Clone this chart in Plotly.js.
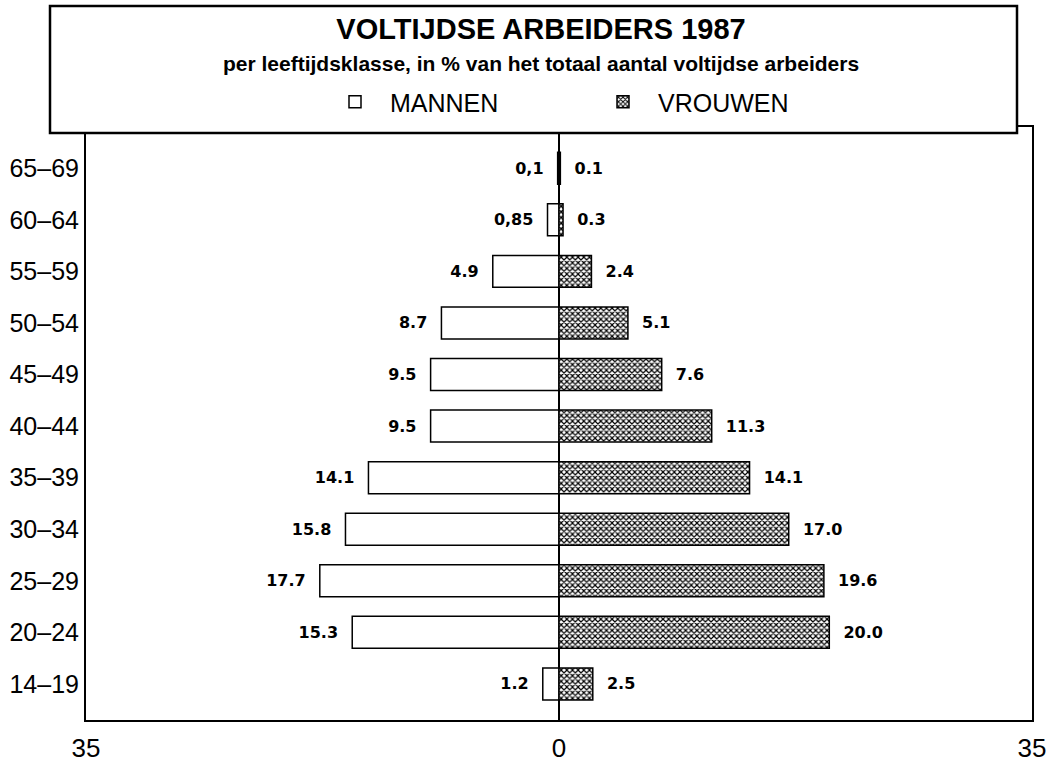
<!DOCTYPE html>
<html>
<head>
<meta charset="utf-8">
<script src="https://cdn.plot.ly/plotly-3.0.1.min.js"></script>
<style>html,body{margin:0;padding:0;background:#fff;}#chart{width:1057px;height:762px;}</style>
</head>
<body>
<div id="chart"></div>
<script>
// Data (bottom to top)
const ageGroups = ["14–19","20–24","25–29","30–34","35–39","40–44","45–49","50–54","55–59","60–64","65–69"];
const mannen = [1.2, 15.3, 17.7, 15.8, 14.1, 9.5, 9.5, 8.7, 4.9, 0.85, 0.1];
const vrouwen = [2.5, 20.0, 19.6, 17.0, 14.1, 11.3, 7.6, 5.1, 2.4, 0.3, 0.1];
const mannenLabels = ["1.2","15.3","17.7","15.8","14.1","9.5","9.5","8.7","4.9","0,85","0,1"];
const vrouwenLabels = ["2.5","20.0","19.6","17.0","14.1","11.3","7.6","5.1","2.4","0.3","0.1"];
const xTickVals = [-35, 0, 35];
const xTickText = ["35", "0", "35"];

const FONT = "Liberation Sans, Arial, sans-serif";
const LABELFONT = "DejaVu Sans, Liberation Sans, sans-serif";

const traces = [
  {
    type: "bar", orientation: "h", name: "MANNEN",
    y: ageGroups, x: mannen.map(v => -v),
    text: mannenLabels, texttemplate: "%{text}\u00a0\u00a0", textposition: "outside",
    cliponaxis: false,
    textfont: {family: LABELFONT, size: 16, color: "#000", weight: "bold"},
    marker: {color: "#ffffff", line: {color: "#000", width: 1.5}},
    hoverinfo: "skip"
  },
  {
    type: "bar", orientation: "h", name: "VROUWEN",
    y: ageGroups, x: vrouwen,
    text: vrouwenLabels, texttemplate: "\u00a0\u00a0%{text}", textposition: "outside",
    cliponaxis: false,
    textfont: {family: LABELFONT, size: 16, color: "#000", weight: "bold"},
    marker: {color: "#ffffff", line: {color: "#000", width: 1.5},
      pattern: {shape: "x", fgcolor: "#000", bgcolor: "#ffffff", size: 4, solidity: 0.5}},
    hoverinfo: "skip"
  }
];

const W = 1057, H = 762;
const mL = 86, mR = 25, mT = 127, mB = 42;
const pw = W - mL - mR, ph = H - mT - mB;
const px = v => (v - mL) / pw;
const py = v => 1 + (mT - v) / ph;

const layout = {
  width: W, height: H,
  margin: {l: mL, r: mR, t: mT, b: mB},
  paper_bgcolor: "#fff", plot_bgcolor: "#fff",
  barmode: "overlay", bargap: 0.38,
  showlegend: true,
  hovermode: false,
  font: {family: FONT, color: "#000"},
  title: {
    text: "<b>VOLTIJDSE ARBEIDERS 1987</b>",
    font: {family: FONT, size: 29, color: "#000"},
    xref: "container", x: 541 / W, xanchor: "center",
    yref: "container", y: 1 - 29 / H, yanchor: "middle"
  },
  annotations: [{
    text: "<b>per leeftijdsklasse, in % van het totaal aantal voltijdse arbeiders</b>",
    xref: "paper", yref: "paper", x: px(541), y: py(63),
    xanchor: "center", yanchor: "middle", showarrow: false,
    font: {family: FONT, size: 21, color: "#000"}
  }],
  legend: {
    orientation: "h", xref: "paper", yref: "paper",
    x: px(320), xanchor: "left", y: py(102), yanchor: "middle",
    font: {family: FONT, size: 25, color: "#000"},
    bgcolor: "rgba(0,0,0,0)", itemwidth: 60, entrywidth: 193, traceorder: "normal"
  },
  shapes: [{
    type: "rect", xref: "paper", yref: "paper",
    x0: px(50), x1: px(1017), y0: py(133), y1: py(6),
    line: {color: "#000", width: 2.5}, fillcolor: "#ffffff", layer: "above"
  }],
  xaxis: {
    range: [-35, 35], tickmode: "array", tickvals: xTickVals, ticktext: xTickText,
    ticks: "", showgrid: false, zeroline: true, zerolinecolor: "#000", zerolinewidth: 2,
    showline: true, linecolor: "#000", linewidth: 2, mirror: true,
    tickfont: {family: FONT, size: 26, color: "#000"}, ticklabelstandoff: 4,
    fixedrange: true
  },
  yaxis: {
    type: "category", range: [-0.7, 10.8],
    ticks: "", showgrid: false, zeroline: false,
    showline: true, linecolor: "#000", linewidth: 2, mirror: true,
    tickfont: {family: FONT, size: 25, color: "#000"}, ticklabelstandoff: 0,
    fixedrange: true
  }
};

Plotly.newPlot("chart", traces, layout, {displayModeBar: false, staticPlot: true});
</script>
</body>
</html>
